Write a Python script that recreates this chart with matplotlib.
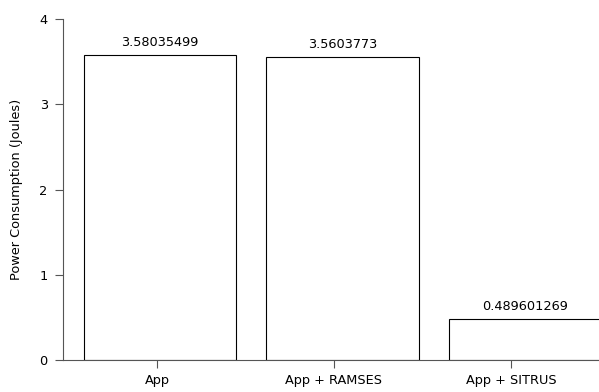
import matplotlib
matplotlib.use("Agg")
import matplotlib.pyplot as plt

# ── Data ──────────────────────────────────
categories = ["App", "App + RAMSES", "App + SITRUS"]
power_joules = [3.58035499, 3.5603773, 0.489601269]
value_labels = ["3.58035499", "3.5603773", "0.489601269"]

# ── Style ─────────────────────────────────
plt.rcParams["font.family"] = ["DejaVu Sans"]
plt.rcParams["font.size"] = 9.3
AXIS_GREY = "#555555"

fig = plt.figure(figsize=(5.99, 3.92), dpi=100)
ax = fig.add_axes([0.1052, 0.0804, 0.8948, 0.8711])

xs = list(range(len(categories)))
ax.bar(xs, power_joules, width=0.833, color="white",
       edgecolor="black", linewidth=0.8, zorder=2)

for x, v, lab in zip(xs, power_joules, value_labels):
    ax.text(x, v + 0.07, lab, ha="center", va="bottom", clip_on=False)

ax.set_xlim(-0.5315, 2.4055)
ax.set_ylim(0, 4)

# category ticks sit slightly off the bar centres (as in the original)
ax.set_xticks([-0.016, 0.953, 1.923])
ax.set_xticklabels(categories)
ax.set_yticks([0, 1, 2, 3, 4])

ax.set_ylabel("Power Consumption (Joules)", labelpad=12)

for side in ["top", "right"]:
    ax.spines[side].set_visible(False)
for side in ["left", "bottom"]:
    ax.spines[side].set_color(AXIS_GREY)
    ax.spines[side].set_linewidth(0.8)
ax.spines["left"].set_bounds(0, 4)

ax.tick_params(axis="x", length=6, width=0.8, color=AXIS_GREY, pad=4)
ax.tick_params(axis="y", length=6, width=0.8, color=AXIS_GREY, pad=5)

fig.savefig("out.png", dpi=100)
